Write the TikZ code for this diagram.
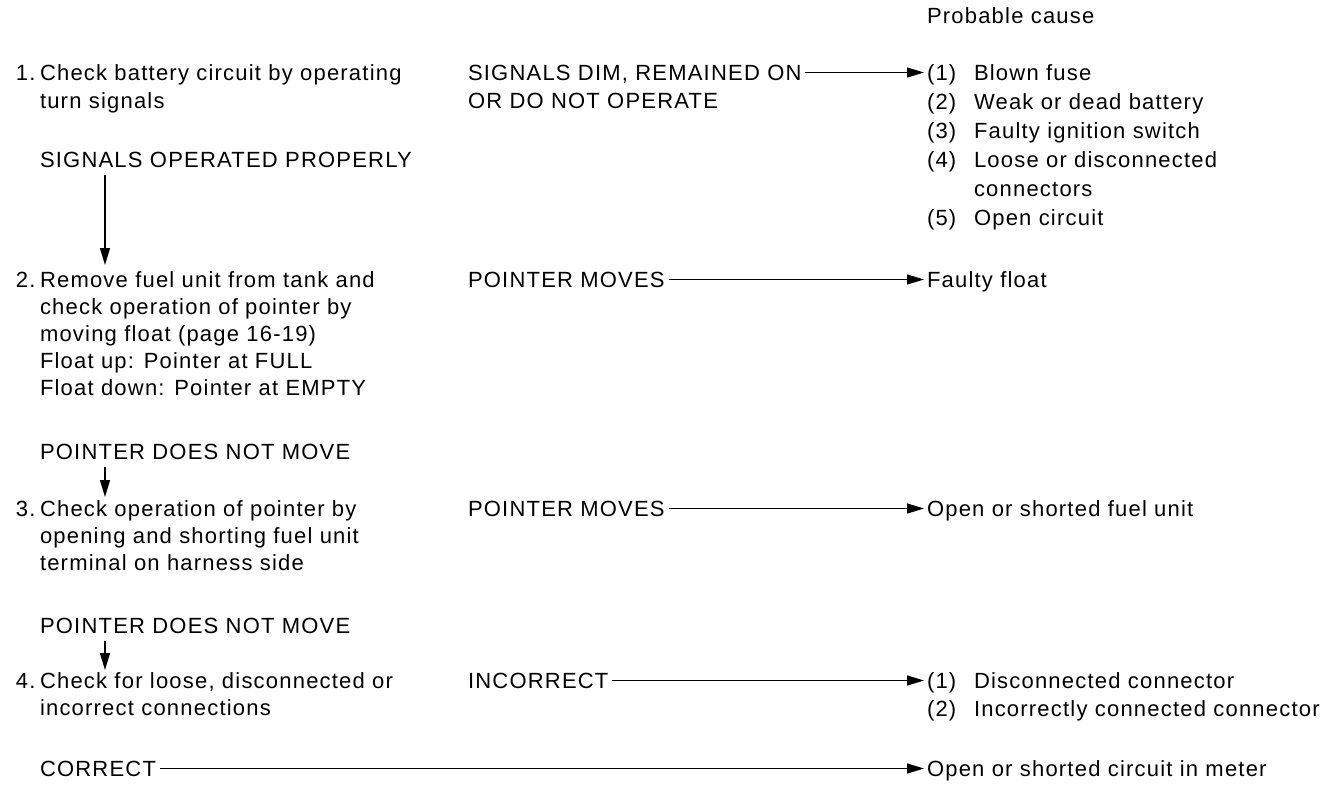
\documentclass[tikz,border=0pt]{standalone}
\usepackage{fontspec}
\setmainfont{Liberation Sans}[LetterSpace=5.5]
\usetikzlibrary{arrows.meta}
\tikzset{
  txt/.style={anchor=base west, inner sep=0pt, outer sep=0pt, font=\fontsize{22}{27}\selectfont},
  arr/.style={-{Triangle[length=17pt,width=10pt]}, line width=1.2pt},
}
\begin{document}
\begin{tikzpicture}[x=1pt,y=-1pt]
\useasboundingbox (0,0) rectangle (1337,785);
% header
\node[txt] (pc) at (927,23) {Probable cause};
% step 1
\node[txt] (n1) at (16,80) {1.};
\node[txt] (s1a) at (40,80) {Check battery circuit by operating};
\node[txt] (s1b) at (40,108) {turn signals};
\node[txt] (sop) at (40,167) {SIGNALS OPERATED PROPERLY};
\node[txt] (sd) at (468,80) {SIGNALS DIM, REMAINED ON};
\node[txt] (sd2) at (468,108) {OR DO NOT OPERATE};
\node[txt] (c1n) at (927,80) {(1)};
\node[txt] (c1) at (974,80) {Blown fuse};
\node[txt] (c2n) at (927,109) {(2)};
\node[txt] (c2) at (974,109) {Weak or dead battery};
\node[txt] (c3n) at (927,138) {(3)};
\node[txt] (c3) at (974,138) {Faulty ignition switch};
\node[txt] (c4n) at (927,167) {(4)};
\node[txt] (c4) at (974,167) {Loose or disconnected};
\node[txt] (c4b) at (974,196) {connectors};
\node[txt] (c5n) at (927,225) {(5)};
\node[txt] (c5) at (974,225) {Open circuit};
% step 2
\node[txt] (n2) at (16,287) {2.};
\node[txt] (s2a) at (40,287) {Remove fuel unit from tank and};
\node[txt] (s2b) at (40,314) {check operation of pointer by};
\node[txt] (s2c) at (40,341) {moving float (page 16-19)};
\node[txt] (s2d) at (40,368) {Float up: Pointer at FULL};
\node[txt] (s2e) at (40,395) {Float down: Pointer at EMPTY};
\node[txt] (pm1) at (468,287) {POINTER MOVES};
\node[txt] (ff) at (927,287) {Faulty float};
\node[txt] (pd1) at (40,459) {POINTER DOES NOT MOVE};
% step 3
\node[txt] (n3) at (16,516) {3.};
\node[txt] (s3a) at (40,516) {Check operation of pointer by};
\node[txt] (s3b) at (40,543) {opening and shorting fuel unit};
\node[txt] (s3c) at (40,570) {terminal on harness side};
\node[txt] (pm2) at (468,516) {POINTER MOVES};
\node[txt] (of) at (927,516) {Open or shorted fuel unit};
\node[txt] (pd2) at (40,633) {POINTER DOES NOT MOVE};
% step 4
\node[txt] (n4) at (16,688) {4.};
\node[txt] (s4a) at (40,688) {Check for loose, disconnected or};
\node[txt] (s4b) at (40,715) {incorrect connections};
\node[txt] (inc) at (468,688) {INCORRECT};
\node[txt] (d1n) at (927,688) {(1)};
\node[txt] (d1) at (974,688) {Disconnected connector};
\node[txt] (d2n) at (927,716) {(2)};
\node[txt] (d2) at (974,716) {Incorrectly connected connector};
\node[txt] (cor) at (40,776) {CORRECT};
\node[txt] (om) at (927,776) {Open or shorted circuit in meter};
% vertical arrows
\draw[arr] ([xshift=65pt,yshift=-8pt]sop.base west) -- ([xshift=65pt,yshift=22pt]s2a.base west);
\draw[arr] ([xshift=65pt,yshift=-8pt]pd1.base west) -- ([xshift=65pt,yshift=19pt]s3a.base west);
\draw[arr] ([xshift=65pt,yshift=-8pt]pd2.base west) -- ([xshift=65pt,yshift=18pt]s4a.base west);
% horizontal arrows
\draw[arr] ([xshift=4pt,yshift=7.5pt]sd.base east) -- ([xshift=-3pt,yshift=7.5pt]c1n.base west);
\draw[arr] ([xshift=4pt,yshift=7.5pt]pm1.base east) -- ([xshift=-3pt,yshift=7.5pt]ff.base west);
\draw[arr] ([xshift=4pt,yshift=7.5pt]pm2.base east) -- ([xshift=-3pt,yshift=7.5pt]of.base west);
\draw[arr] ([xshift=4pt,yshift=7.5pt]inc.base east) -- ([xshift=-3pt,yshift=7.5pt]d1n.base west);
\draw[arr] ([xshift=4pt,yshift=7.5pt]cor.base east) -- ([xshift=-3pt,yshift=7.5pt]om.base west);
\end{tikzpicture}
\end{document}
